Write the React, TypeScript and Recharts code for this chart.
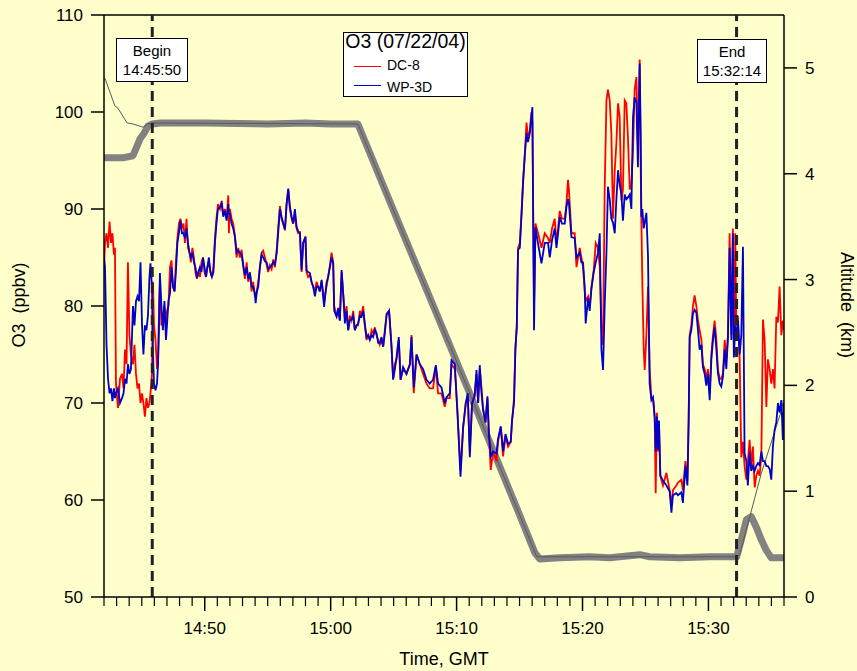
import { LineChart, Line, XAxis, YAxis, ReferenceLine } from "recharts";

// sample times in minutes after 14:00 GMT
const minutes = [
  42.00, 42.08, 42.20, 42.32, 42.44, 42.56, 42.67, 42.79, 42.87, 42.95,
  43.11, 43.27, 43.43, 43.55, 43.67, 43.79, 43.90, 44.02, 44.14, 44.30,
  44.42, 44.54, 44.66, 44.78, 44.90, 45.02, 45.13, 45.25, 45.37, 45.49,
  45.61, 45.69, 45.81, 45.89, 45.97, 46.09, 46.21, 46.29, 46.37, 46.44,
  46.56, 46.68, 46.80, 46.92, 47.00, 47.12, 47.24, 47.36, 47.48, 47.60,
  47.71, 47.83, 47.95, 48.07, 48.19, 48.31, 48.43, 48.55, 48.67, 48.79,
  48.90, 49.02, 49.14, 49.26, 49.38, 49.50, 49.62, 49.74, 49.86, 49.98,
  50.10, 50.21, 50.33, 50.45, 50.57, 50.69, 50.81, 50.93, 51.05, 51.21,
  51.34, 51.47, 51.60, 51.74, 51.87, 51.92, 52.00, 52.13, 52.26, 52.40,
  52.53, 52.66, 52.79, 52.93, 53.06, 53.19, 53.33, 53.45, 53.59, 53.72,
  53.85, 53.98, 54.04, 54.14, 54.25, 54.38, 54.52, 54.64, 54.78, 54.91,
  55.04, 55.17, 55.31, 55.44, 55.57, 55.71, 55.83, 55.97, 56.10, 56.23,
  56.37, 56.50, 56.63, 56.76, 56.90, 57.02, 57.16, 57.29, 57.42, 57.56,
  57.69, 57.82, 58.00, 58.08, 58.21, 58.35, 58.48, 58.61, 58.75, 58.88,
  59.01, 59.14, 59.28, 59.40, 59.48, 59.67, 59.80, 59.94, 60.07, 60.20,
  60.28, 60.47, 60.60, 60.73, 60.87, 61.01, 61.13, 61.26, 61.39, 61.52,
  61.66, 61.79, 61.92, 62.06, 62.18, 62.32, 62.45, 62.58, 62.71, 62.85,
  62.98, 63.11, 63.25, 63.37, 63.51, 63.64, 63.77, 63.90, 64.04, 64.17,
  64.30, 64.44, 64.64, 64.83, 64.96, 65.10, 65.23, 65.41, 65.55, 65.75,
  66.02, 66.29, 66.42, 66.60, 66.82, 67.08, 67.34, 67.61, 67.87, 68.13,
  68.35, 68.53, 68.80, 69.06, 69.20, 69.46, 69.60, 69.86, 70.07, 70.31,
  70.52, 70.73, 70.89, 71.05, 71.23, 71.44, 71.58, 71.71, 71.84, 71.98,
  72.10, 72.29, 72.45, 72.56, 72.71, 72.90, 73.17, 73.29, 73.51, 73.69,
  73.88, 74.09, 74.30, 74.40, 74.56, 74.67, 74.78, 74.88, 75.02, 75.15,
  75.28, 75.41, 75.55, 75.67, 75.81, 75.94, 76.02, 76.10, 76.15, 76.26,
  76.47, 76.74, 77.00, 77.26, 77.40, 77.58, 77.79, 77.93, 78.06, 78.19,
  78.37, 78.59, 78.72, 78.85, 78.92, 79.12, 79.38, 79.52, 79.78, 79.91,
  80.04, 80.17, 80.25, 80.44, 80.57, 80.71, 80.89, 81.05, 81.23, 81.37,
  81.50, 81.63, 81.76, 81.90, 82.02, 82.16, 82.29, 82.42, 82.56, 82.69,
  82.82, 82.95, 83.09, 83.21, 83.35, 83.48, 83.61, 83.75, 83.88, 84.01,
  84.14, 84.28, 84.40, 84.54, 84.62, 84.67, 84.75, 84.86, 84.94, 85.07,
  85.20, 85.33, 85.47, 85.60, 85.73, 85.81, 85.91, 85.99, 86.07, 86.18,
  86.39, 86.66, 86.92, 87.06, 87.18, 87.45, 87.58, 87.85, 87.97, 88.17,
  88.33, 88.43, 88.51, 88.64, 88.77, 88.90, 89.04, 89.17, 89.30, 89.44,
  89.56, 89.70, 89.83, 89.96, 90.10, 90.23, 90.36, 90.49, 90.63, 90.75,
  90.89, 91.02, 91.15, 91.29, 91.42, 91.55, 91.68, 91.82, 91.94, 92.02,
  92.13, 92.21, 92.34, 92.48, 92.61, 92.74, 92.87, 93.01, 93.13, 93.27,
  93.40, 93.53, 93.67, 93.80, 93.93, 94.06, 94.20, 94.33, 94.46, 94.60,
  94.72, 94.86, 94.99, 95.12, 95.25, 95.39, 95.52, 95.65, 95.79, 95.91,
  96.00,
];

// O3 (ppbv), DC-8
const dc8O3 = [
  84, 86.5, 87.5, 86, 88.7, 86.5, 87.5, 85.3, 86, 72,
  69.5, 72.5, 73, 71.5, 75.5, 74, 84.5, 77, 75, 74,
  76, 73, 71.5, 72, 70, 71, 70, 68.6, 70.5, 69.5,
  70, 71, 73, 82.5, 78, 76.5, 73.5, 74, 80, 82.5,
  78, 79, 80, 78, 79.5, 80, 84, 84.7, 82, 81.5,
  84.5, 87, 88.5, 89, 88, 88.5, 86.5, 89, 86, 85.5,
  84.5, 86, 85, 83.5, 82.8, 83.5, 83, 84.5, 85, 83.5,
  83, 84, 84.5, 83.5, 83, 84, 87, 89, 90.5, 90,
  90.8, 89.5, 90, 89, 91.4, 87.5, 90, 89, 88.5, 87.2,
  85, 86, 85, 85.8, 84, 82.8, 84.5, 82.5, 83.5, 81.5,
  82.5, 81, 81, 81.5, 82.5, 84, 85.5, 85.7, 85, 84.3,
  83.5, 84.2, 83.8, 84.8, 84, 85.7, 88, 90.3, 89, 88.5,
  87.8, 90.5, 92, 90, 89, 88.5, 89.5, 88, 87.5, 87.6,
  83.5, 86.5, 87.2, 83.5, 83, 83.2, 82.5, 82, 81.5, 82.5,
  82, 81.5, 82.5, 81.5, 80.5, 82, 83, 84.2, 85.5, 84.5,
  80, 79, 79.5, 78.5, 83.5, 81, 78.7, 80, 77.5, 79,
  78.5, 79.5, 77.5, 78, 78, 79.5, 79, 80, 78, 76.5,
  77, 76.5, 77.5, 77.2, 77.8, 77, 76.5, 76, 76.5, 75.8,
  77.5, 79, 79.5, 76, 72.5, 74, 74.5, 76.5, 72.4, 73.5,
  73, 74, 77, 71, 75, 74, 73, 72, 71.5, 71.5,
  73.7, 71, 71, 69.6, 70.5, 70.5, 74, 73.5, 69, 63,
  67.5, 70, 70.5, 65, 70, 71, 73, 70, 73.5, 71.5,
  69.5, 68, 70.5, 67, 63.1, 65, 64, 66, 67.5, 64.5,
  66.5, 65.5, 66, 68, 70.5, 75.8, 78, 86, 86.5, 89.5,
  93, 95.5, 98.9, 97.5, 98, 100, 99, 87, 80, 88.5,
  87.5, 86, 87.5, 87, 86.5, 88, 89, 86.5, 88, 89.8,
  89, 89, 90.5, 93, 92, 87.5, 87.5, 84, 86, 85,
  84, 81.6, 80.5, 81, 80, 82, 83.7, 86.5, 86, 84,
  78, 76, 92, 101.2, 102.3, 101.2, 97.8, 89, 94, 96.8,
  100.9, 99.5, 90.9, 92, 101.2, 100.9, 97.3, 92, 92.6, 96,
  102.3, 103.6, 96.5, 105.4, 94.3, 89.2, 82.4, 75.5, 73.4, 77,
  82, 73.5, 70.5, 70.5, 68.5, 60.7, 69, 65, 68, 62.5,
  61.5, 62.8, 61, 59.5, 61, 61.5, 61.8, 62.1, 61, 64,
  62, 68.5, 77, 78, 80, 81.1, 80, 78.5, 77.5, 76.5,
  74, 73.5, 72.5, 73.5, 71, 75, 77, 78.5, 76.5, 73.5,
  72.5, 72.5, 73, 76.5, 74.5, 77, 87.5, 77, 88, 75,
  87.5, 78, 79, 74.5, 64.4, 66, 63.5, 62.1, 64, 66.2,
  63.5, 65.5, 61.3, 62.5, 63, 62.5, 64.5, 78.6, 76.5, 69.6,
  74.5, 73.5, 72, 73.5, 71.5, 78.9, 78.3, 82, 77, 78.5,
  77.5,
];

// O3 (ppbv), WP-3D
const wp3dO3 = [
  85, 84, 76, 72.5, 71, 71.5, 70.2, 71.5, 70.5, 71,
  71.5, 70, 70.5, 71, 72.5, 72, 74, 73, 73.5, 80,
  78, 80.5, 81, 80.5, 84.5, 78, 75, 78, 77.5, 79,
  83, 84.4, 82, 75, 72, 71.3, 72, 74, 78, 83.4,
  80, 77.5, 80.5, 76.5, 78, 80.5, 81.3, 84, 82, 81.5,
  83.5, 86.5, 87.5, 88.8, 87.5, 87.5, 87, 88, 86.5, 85.5,
  85, 85.5, 84.5, 84, 82.9, 83.5, 84, 83.5, 85, 84,
  83, 84, 85, 83.5, 83, 83.5, 86.5, 88.5, 90, 90.2,
  90.6, 89.2, 89.8, 88.8, 90.5, 89.5, 89.5, 88.5, 88, 87.1,
  85.5, 85.7, 85.5, 85.3, 84.2, 83.2, 84, 82.8, 83.4, 82,
  82, 81.3, 80.3, 81.5, 82, 84, 85.3, 85, 84.6, 84.5,
  83.8, 84, 84.2, 84.5, 84.3, 85.4, 87.5, 90, 89.2, 88.5,
  87.9, 90.5, 92.1, 90.3, 89.2, 88.5, 90, 88.2, 87.7, 87.5,
  83.7, 86.5, 87.1, 83.7, 83.5, 83.4, 82.5, 82, 81, 82,
  82, 81.5, 82.7, 81, 79.9, 82.4, 83, 84, 85, 84.4,
  79.5, 78.9, 79.8, 78.5, 83.7, 81, 78.2, 79.5, 77.5, 78.5,
  78.6, 79, 77.5, 78, 78.2, 79, 78.9, 79.5, 78.2, 76.8,
  77, 76.5, 77, 76.8, 77.5, 77.2, 76.2, 76.2, 76.8, 75.8,
  77.2, 79.2, 79.5, 75.8, 72.4, 73.5, 74.7, 76.8, 72.4, 73.7,
  73, 74, 76.8, 71.6, 75, 74, 73.5, 72.4, 72, 72.4,
  73.9, 72, 71.6, 70, 70.6, 71, 74.4, 74, 69, 62.4,
  67.5, 70, 71, 64.4, 70, 70.7, 73.4, 70, 73.9, 71,
  69.3, 68, 70.7, 67, 64.5, 65, 64.8, 66.3, 67.6, 65,
  66.8, 65.8, 66, 68.2, 70, 75.5, 77.8, 85.8, 86, 89.2,
  92.7, 95.4, 97.8, 96.9, 97.8, 99.5, 100.5, 86, 77.5, 88.1,
  86.4, 84.4, 86.5, 86.5, 85, 86.8, 88, 86, 87.5, 89.2,
  88.5, 88.5, 90.2, 91, 90.6, 87.1, 87, 85, 85.5, 84.5,
  84.5, 82, 78.2, 80.8, 79.5, 81.8, 83.5, 84.5, 85.5, 87.5,
  75.5, 73.4, 80, 85.5, 92.3, 91, 89, 88.6, 87.5, 91,
  94, 92.5, 91.5, 88.8, 91.5, 91, 91.2, 91.5, 90, 99.5,
  101.5, 101, 94.3, 105, 97.8, 89.2, 90, 88, 88.6, 89.6,
  85.2, 72, 70.3, 70.6, 68.6, 65, 68.6, 65.2, 68.2, 62.5,
  62, 61.5, 60.9, 58.7, 60.5, 60.7, 60.5, 60.8, 59.7, 63.5,
  61.5, 68.2, 76.8, 77.5, 79.2, 79.6, 79.3, 77.5, 75.5, 76,
  73.7, 73, 71.8, 73, 70.3, 74.5, 76.5, 77.8, 75.5, 73.1,
  72, 71.7, 72.7, 75.5, 73.5, 76.8, 86, 76.5, 87.5, 74.7,
  78, 76.5, 78.5, 75, 77, 86.1, 64.8, 64, 61.5, 65,
  63, 63.5, 63, 63.5, 63.8, 63.6, 65, 64, 64, 63.5,
  63.5, 63.2, 62.1, 65.5, 67.2, 68, 70, 69, 70.3, 66.2,
  70,
];

// altitude (km)
const dc8AltMinutes = [
  42.00, 43.50, 44.30, 44.62, 44.86, 45.17, 45.49, 45.81, 46.50, 50.00,
  55.00, 58.00, 60.00, 62.16, 65.49, 70.89, 75.02, 75.97, 76.21, 76.60,
  78.19, 80.57, 82.16, 84.54, 85.33, 87.71, 90.10, 92.24, 92.61, 93.01,
  93.40, 93.80, 94.20, 94.60, 94.99, 96.00,
];
const dc8AltKm = [
  4.15, 4.15, 4.17, 4.26, 4.33, 4.38, 4.45, 4.47, 4.48, 4.48,
  4.47, 4.48, 4.47, 4.47, 3.51, 1.97, 0.77, 0.49, 0.42, 0.36,
  0.37, 0.38, 0.37, 0.40, 0.38, 0.37, 0.38, 0.38, 0.54, 0.73,
  0.76, 0.66, 0.54, 0.44, 0.37, 0.37,
];
const wp3dAltMinutes = [
  42.00, 42.08, 42.87, 43.11, 43.83, 44.30, 45.10, 45.49, 45.81, 62.16,
  65.49, 70.89, 75.02, 76.37, 92.24, 92.48, 94.20, 95.79, 95.97,
];
const wp3dAltKm = [
  4.90, 4.90, 4.64, 4.62, 4.48, 4.47, 4.44, 4.47, 4.48, 4.47,
  3.51, 1.97, 0.77, 0.38, 0.38, 0.40, 1.17, 1.76, 1.86,
];

const o3Ticks = [50, 60, 70, 80, 90, 100, 110];
const altTicks = [0, 1, 2, 3, 4, 5];
const majorTimeTicks = [50, 60, 70, 80, 90];
const majorTimeLabels = ["14:50", "15:00", "15:10", "15:20", "15:30"];
const minuteTicks = Array.from({ length: 55 }, (_, i) => 42 + i);

const beginMinute = 45 + 50 / 60; // 14:45:50
const endMinute = 92 + 14 / 60; // 15:32:14

const o3Rows = minutes.map((t, i) => ({ t, dc8: dc8O3[i], wp3d: wp3dO3[i] }));
const dc8AltRows = dc8AltMinutes.map((t, i) => ({ t, km: dc8AltKm[i] }));
const wp3dAltRows = wp3dAltMinutes.map((t, i) => ({ t, km: wp3dAltKm[i] }));

const FONT = '"Liberation Sans", Arial, Helvetica, sans-serif';
const BG = "#ffffcc";

function TimeTick(props: any) {
  const { x, y, payload } = props;
  const idx = majorTimeTicks.indexOf(payload.value);
  const major = idx >= 0;
  return (
    <g>
      <line x1={x} x2={x} y1={y} y2={y + (major ? 14 : 9)} stroke="#000" strokeWidth={major ? 1.5 : 1.2} />
      {major && (
        <text x={x} y={y + 37} textAnchor="middle" fontSize={17} fill="#000" fontFamily={FONT}>
          {majorTimeLabels[idx]}
        </text>
      )}
    </g>
  );
}

const boxStyle: React.CSSProperties = {
  position: "absolute",
  boxSizing: "border-box",
  border: "1px solid #000",
  background: "#fff",
  textAlign: "center",
  fontSize: 15,
  lineHeight: "18.5px",
  paddingTop: 3,
  color: "#000",
};

export default function App() {
  return (
    <div
      style={{
        position: "absolute",
        left: 0,
        top: 0,
        width: 857,
        height: 671,
        background: BG,
        fontFamily: FONT,
        overflow: "hidden",
      }}
    >
      <LineChart width={857} height={671} margin={{ top: 15, right: 0, bottom: 0, left: 0 }}>
        <XAxis
          type="number"
          dataKey="t"
          domain={[42, 96]}
          ticks={minuteTicks}
          interval={0}
          allowDataOverflow
          height={74}
          tickSize={0}
          tickMargin={0}
          tickLine={false}
          tick={TimeTick}
          axisLine={{ stroke: "#000", strokeWidth: 1.5 }}
        />
        <YAxis
          yAxisId="o3"
          domain={[50, 110]}
          ticks={o3Ticks}
          interval={0}
          allowDataOverflow
          width={104}
          tickSize={13}
          tickMargin={8}
          tick={{ fill: "#000", fontSize: 17, fontFamily: FONT }}
          tickLine={{ stroke: "#000", strokeWidth: 1.5 }}
          axisLine={{ stroke: "#000", strokeWidth: 1.5 }}
        />
        <YAxis
          yAxisId="alt"
          orientation="right"
          domain={[0, 5.5]}
          ticks={altTicks}
          interval={0}
          allowDataOverflow
          width={73}
          tickSize={13}
          tickMargin={8}
          tick={{ fill: "#000", fontSize: 17, fontFamily: FONT }}
          tickLine={{ stroke: "#000", strokeWidth: 1.5 }}
          axisLine={{ stroke: "#000", strokeWidth: 1.5 }}
        />
        <ReferenceLine yAxisId="o3" y={110} stroke="#000" strokeWidth={1.5} />
        <Line
          yAxisId="alt"
          data={dc8AltRows}
          dataKey="km"
          type="linear"
          stroke="#828282"
          strokeWidth={7}
          strokeLinejoin="round"
          dot={false}
          activeDot={false}
          isAnimationActive={false}
        />
        <Line
          yAxisId="alt"
          data={wp3dAltRows}
          dataKey="km"
          type="linear"
          stroke="#5a5a5a"
          strokeWidth={1}
          dot={false}
          activeDot={false}
          isAnimationActive={false}
        />
        <Line
          yAxisId="o3"
          data={o3Rows}
          dataKey="dc8"
          type="linear"
          stroke="#ff0000"
          strokeWidth={1.8}
          dot={false}
          activeDot={false}
          isAnimationActive={false}
        />
        <Line
          yAxisId="o3"
          data={o3Rows}
          dataKey="wp3d"
          type="linear"
          stroke="#0000cc"
          strokeWidth={1.8}
          dot={false}
          activeDot={false}
          isAnimationActive={false}
        />
        <ReferenceLine yAxisId="o3" x={beginMinute} stroke="#222" strokeWidth={3} strokeDasharray="10 6" />
        <ReferenceLine yAxisId="o3" x={endMinute} stroke="#222" strokeWidth={3} strokeDasharray="10 6" />
      </LineChart>

      {/* axis titles */}
      <div
        style={{
          position: "absolute",
          left: 344,
          top: 649,
          width: 200,
          lineHeight: "20px",
          fontSize: 18,
          textAlign: "center",
          color: "#000",
        }}
      >
        Time, GMT
      </div>
      <div
        style={{
          position: "absolute",
          left: 19 - 100,
          top: 305 - 10,
          width: 200,
          lineHeight: "20px",
          fontSize: 18,
          textAlign: "center",
          whiteSpace: "pre",
          transform: "rotate(-90deg)",
          color: "#000",
        }}
      >
        {"O3  (ppbv)"}
      </div>
      <div
        style={{
          position: "absolute",
          left: 847 - 100,
          top: 305 - 10,
          width: 200,
          lineHeight: "20px",
          fontSize: 18,
          textAlign: "center",
          whiteSpace: "pre",
          transform: "rotate(90deg)",
          color: "#000",
        }}
      >
        {"Altitude  (km)"}
      </div>

      {/* Begin / End labels */}
      <div style={{ ...boxStyle, left: 116, top: 38, width: 72, height: 44 }}>
        Begin
        <br />
        14:45:50
      </div>
      <div style={{ ...boxStyle, left: 697, top: 39, width: 70, height: 44 }}>
        End
        <br />
        15:32:14
      </div>

      {/* legend */}
      <div
        style={{
          position: "absolute",
          boxSizing: "border-box",
          left: 343,
          top: 32,
          width: 125,
          height: 65,
          border: "1px solid #000",
          background: "#fff",
          color: "#000",
        }}
      >
        <div style={{ position: "absolute", left: 0, top: -2, width: "100%", textAlign: "center", fontSize: 19.5, lineHeight: "20px" }}>
          O3 (07/22/04)
        </div>
        <div style={{ position: "absolute", left: 10, top: 33, width: 27, height: 1, background: "#ff0000" }} />
        <div style={{ position: "absolute", left: 43, top: 22, fontSize: 14, lineHeight: "20px" }}>DC-8</div>
        <div style={{ position: "absolute", left: 10, top: 52, width: 27, height: 1, background: "#0000cc" }} />
        <div style={{ position: "absolute", left: 43, top: 44, fontSize: 14, lineHeight: "20px" }}>WP-3D</div>
      </div>
    </div>
  );
}
